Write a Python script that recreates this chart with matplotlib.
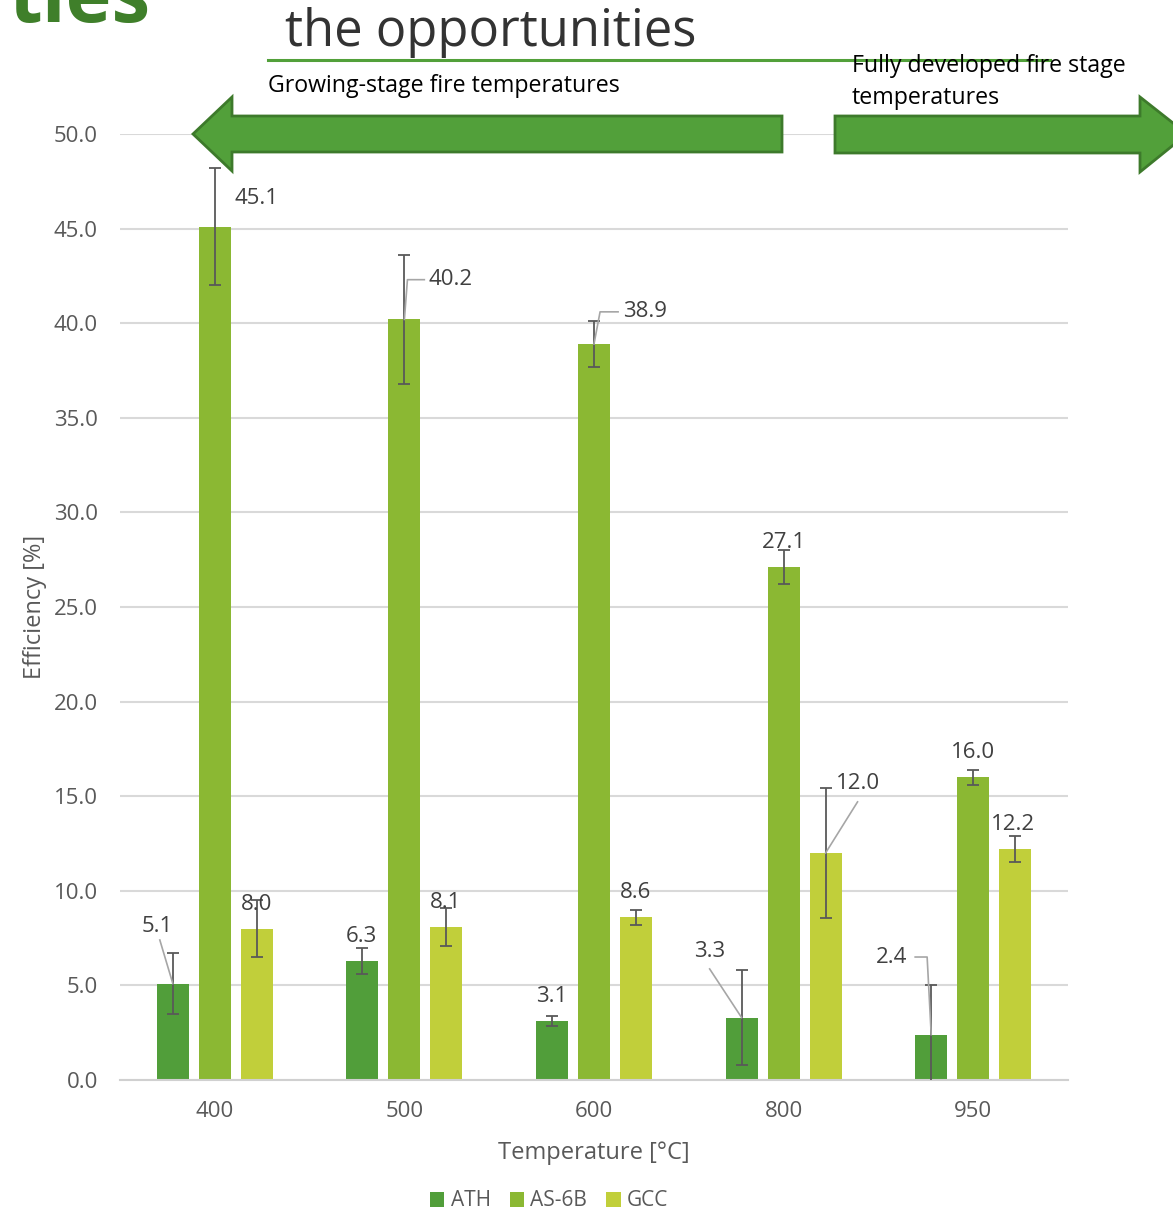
import numpy as np
import matplotlib.pyplot as plt
from matplotlib.patches import Polygon

plt.rcParams['font.family'] = ['Open Sans', 'DejaVu Sans']

# data
temps = ['400', '500', '600', '800', '950']
series = ['ATH', 'AS-6B', 'GCC']
ath = [5.1, 6.3, 3.1, 3.3, 2.4]
as6b = [45.1, 40.2, 38.9, 27.1, 16.0]
gcc = [8.0, 8.1, 8.6, 12.0, 12.2]
ath_err = [1.6, 0.7, 0.27, 2.5, 2.6]
as6b_err = [3.1, 3.4, 1.2, 0.9, 0.4]
gcc_err = [1.5, 1.0, 0.4, 3.45, 0.7]

colors = ['#519e3a', '#8bb833', '#c1cf3a']
text_col = '#404040'

W, H = 1173, 1212
fig = plt.figure(figsize=(W / 100, H / 100), dpi=100)
ax = fig.add_axes([120 / W, 1 - 1080 / H, 948 / W, 946 / H])

x = np.arange(len(temps))
width = 0.169
offset = 0.2215
vals = [ath, as6b, gcc]
errs = [ath_err, as6b_err, gcc_err]
for i, (v, e) in enumerate(zip(vals, errs)):
    pos = x + (i - 1) * offset
    ax.bar(pos, v, width, color=colors[i], label=series[i], zorder=2)
    ax.errorbar(pos, v, yerr=e, fmt='none', ecolor='#595959', elinewidth=1.3,
                capsize=4.5, capthick=1.3, zorder=4)

# data labels: (series, category) -> (dx, y, ha, leader path)
label_pos = {
    (0, 0): (-0.306, 8.1, 'center', [(-0.29, 7.4), (-0.2215, 5.1)]),
    (1, 0): (0.105, 46.6, 'left', None),
    (2, 0): (0.2215, 9.3, 'center', None),
    (0, 1): (-0.227, 7.6, 'center', None),
    (1, 1): (0.127, 42.3, 'left', [(0.105, 42.3), (0.016, 42.3), (0.0, 40.2)]),
    (2, 1): (0.216, 9.4, 'center', None),
    (0, 2): (-0.222, 4.4, 'center', None),
    (1, 2): (0.153, 40.6, 'left', [(0.127, 40.6), (0.032, 40.6), (0.0, 38.9)]),
    (2, 2): (0.2215, 9.9, 'center', None),
    (0, 3): (-0.39, 6.8, 'center', [(-0.39, 5.87), (-0.2215, 3.3)]),
    (1, 3): (0.0, 28.4, 'center', None),
    (2, 3): (0.274, 15.65, 'left', [(0.39, 14.7), (0.2215, 12.0)]),
    (0, 4): (-0.43, 6.45, 'center', [(-0.306, 6.5), (-0.243, 6.5), (-0.2215, 2.4)]),
    (1, 4): (0.0, 17.3, 'center', None),
    (2, 4): (0.211, 13.5, 'center', None),
}
for (s, c), (dx, ty, ha, path) in label_pos.items():
    ax.text(c + dx, ty, f'{vals[s][c]:.1f}', ha=ha, va='center', fontsize=16,
            color=text_col, zorder=6)
    if path:
        px = [c + p[0] for p in path]
        py = [p[1] for p in path]
        ax.plot(px, py, color='#a6a6a6', lw=1.2, zorder=5)

ax.set_xlim(-0.5, 4.5)
ax.set_ylim(0, 50)
ax.set_yticks(np.arange(0, 50.1, 5))
ax.set_yticklabels([f'{t:.1f}' for t in np.arange(0, 50.1, 5)])
ax.set_xticks(x)
ax.set_xticklabels(temps)
ax.tick_params(length=0, labelsize=16, labelcolor='#595959')
ax.tick_params(axis='x', pad=15)
ax.tick_params(axis='y', pad=16)
ax.grid(axis='y', color='#d9d9d9', lw=1.5, zorder=0)
ax.set_axisbelow(True)
for side in ['top', 'right', 'left']:
    ax.spines[side].set_visible(False)
ax.spines['bottom'].set_color('#d0d0d0')
ax.spines['bottom'].set_linewidth(1.5)
ax.set_xlabel('Temperature [°C]', fontsize=17, color='#595959', labelpad=14)
ax.set_ylabel('Efficiency [%]', fontsize=17, color='#595959', labelpad=5)

ax.legend(loc='center', bbox_to_anchor=(549 / W, 1 - 1201 / H),
          bbox_transform=fig.transFigure, ncol=3, frameon=False, fontsize=15,
          handlelength=0.7, handleheight=0.7, handletextpad=0.3, columnspacing=0.9,
          labelcolor='#595959')


def fy(py):
    return 1 - py / H


# arrows (figure pixel layout)
left_arrow = [(193, 134), (232, 97), (232, 116), (782, 116), (782, 152), (232, 152), (232, 171)]
right_arrow = [(835, 116), (1140, 116), (1140, 97), (1187, 134), (1140, 172), (1140, 153), (835, 153)]
for pts in (left_arrow, right_arrow):
    poly = Polygon([(px / W, fy(py)) for px, py in pts], closed=True,
                   transform=fig.transFigure, facecolor='#52a03a',
                   edgecolor='#3d7a2b', lw=2, zorder=10)
    fig.patches.append(poly)

fig.text(268 / W, fy(86), 'Growing-stage fire temperatures', fontsize=16.7,
         color='black', va='center', ha='left')
fig.text(852 / W, fy(82), 'Fully developed fire stage\ntemperatures', fontsize=16.7,
         color='black', va='center', ha='left', linespacing=1.45)
fig.text(285 / W, fy(32), 'the opportunities', fontsize=36.5, color='#333333',
         va='center', ha='left')
fig.add_artist(plt.Line2D([268 / W, 1050 / W], [fy(60), fy(60)],
                          transform=fig.transFigure, color='#52a03a', lw=2.2))
fig.text(8 / W, fy(22), 'ties', fontsize=56, fontweight='bold', color='#3f7f2a',
         va='baseline', ha='left')

fig.savefig('out.png', dpi=100)
